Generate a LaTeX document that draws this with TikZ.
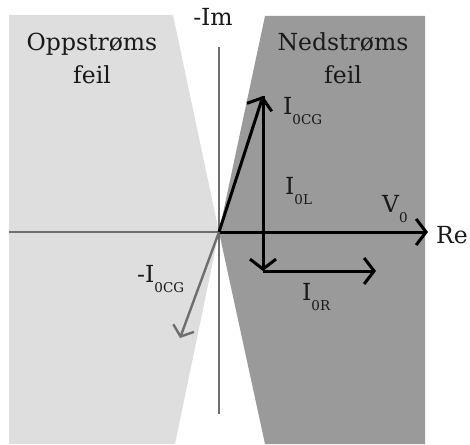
\documentclass[tikz,border=0pt]{standalone}
\usepackage{fontspec}
\setmainfont{DejaVu Serif}
\usetikzlibrary{arrows.meta}
\definecolor{lightreg}{HTML}{DEDEDE}
\definecolor{darkreg}{HTML}{9A9A9A}
\definecolor{axisgray}{HTML}{6E6E6E}
\newcommand{\mylab}[2]{#1\raisebox{-10pt}{\fontsize{13.5}{13.5}\selectfont #2}}
\tikzset{
  txt/.style={font=\fontsize{23.5}{23.5}\selectfont, inner sep=0pt, text=black!90},
  axisline/.style={draw=axisgray, line width=1.8pt},
  vec/.style={draw=black, line width=3pt, -{Straight Barb[length=10pt,width=26pt]}},
  negvec/.style={draw=axisgray, line width=2.4pt, -{Straight Barb[length=9pt,width=22pt]}}
}
\begin{document}
\begin{tikzpicture}[x=1pt,y=-1pt]
\useasboundingbox (0,0) rectangle (470,444);
\coordinate (O) at (219,232);
\coordinate (A) at (263,96);
\coordinate (B) at (263,271);
\coordinate (C) at (376,271);
\coordinate (D) at (180,338);
\coordinate (E) at (428,232);
\coordinate (L) at (9,232);
\coordinate (T) at (219,47);
\coordinate (U) at (219,414);
% regions
\fill[lightreg] (9,15) -- (173,15) -- (O) -- (175,444) -- (9,444) -- cycle;
\fill[darkreg] (265,16) -- (425,16) -- (425,444) -- (265,444) -- (O) -- cycle;
% axes
\draw[axisline] (L) -- (O);
\draw[axisline] (T) -- (U);
% vectors
\draw[vec] (O) -- (E);
\draw[vec] (O) -- (A);
\draw[vec] (A) -- (B);
\draw[vec] (B) -- (C);
\draw[negvec] (O) -- (D);
% labels
\node[txt, anchor=base] (up1) at (92,50) {Oppstrøms};
\node[txt, anchor=base] (up2) at (92,83) {feil};
\node[txt, anchor=base] (dn1) at (343,50) {Nedstrøms};
\node[txt, anchor=base] (dn2) at (343,83) {feil};
\node[txt, anchor=base] (im) at (213,26) {-Im};
\node[txt, anchor=base east] (re) at (468,243) {Re};
\node[txt, anchor=base west] (lcg) at (283,114) {\mylab{I}{0CG}};
\node[txt, anchor=base west] (ll) at (285,194) {\mylab{I}{0L}};
\node[txt, anchor=base west] (lv) at (382,212) {\mylab{V}{0}};
\node[txt, anchor=base west] (lr) at (302,300) {\mylab{I}{0R}};
\node[txt, anchor=base west] (lncg) at (137,282) {\mylab{-I}{0CG}};
\end{tikzpicture}
\end{document}
